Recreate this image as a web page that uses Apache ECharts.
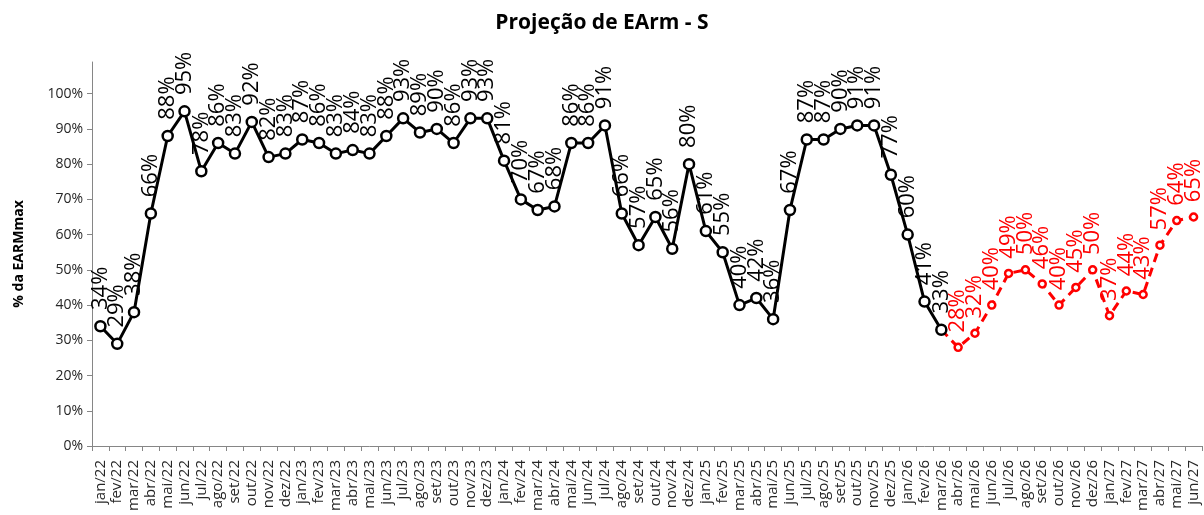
<!DOCTYPE html>
<html>
<head>
<meta charset="utf-8">
<script src="https://cdn.jsdelivr.net/npm/echarts@6/dist/echarts.min.js"></script>
<style>
  html, body { margin: 0; padding: 0; background: #fff; }
  #chart { width: 1204px; height: 515px; }
</style>
</head>
<body>
<div id="chart"></div>
<script>
// Months from jan/22 to jun/27
const months = [
  'jan/22','fev/22','mar/22','abr/22','mai/22','jun/22','jul/22','ago/22','set/22','out/22','nov/22','dez/22',
  'jan/23','fev/23','mar/23','abr/23','mai/23','jun/23','jul/23','ago/23','set/23','out/23','nov/23','dez/23',
  'jan/24','fev/24','mar/24','abr/24','mai/24','jun/24','jul/24','ago/24','set/24','out/24','nov/24','dez/24',
  'jan/25','fev/25','mar/25','abr/25','mai/25','jun/25','jul/25','ago/25','set/25','out/25','nov/25','dez/25',
  'jan/26','fev/26','mar/26','abr/26','mai/26','jun/26','jul/26','ago/26','set/26','out/26','nov/26','dez/26',
  'jan/27','fev/27','mar/27','abr/27','mai/27','jun/27'
];

// Verified storage (% of EARMmax), jan/22 .. mar/26
const verified = [
  34, 29, 38, 66, 88, 95, 78, 86, 83, 92, 82, 83,
  87, 86, 83, 84, 83, 88, 93, 89, 90, 86, 93, 93,
  81, 70, 67, 68, 86, 86, 91, 66, 57, 65, 56, 80,
  61, 55, 40, 42, 36, 67, 87, 87, 90, 91, 91, 77,
  60, 41, 33
];

// Projected storage (% of EARMmax), abr/26 .. jun/27
const projected = [28, 32, 40, 49, 50, 46, 40, 45, 50, 37, 44, 43, 57, 64, 65];

// Y axis tick values
const yTicks = [0, 10, 20, 30, 40, 50, 60, 70, 80, 90, 100];

const verifiedData = months.map((m, i) => i < verified.length ? verified[i] : null);
// projection line starts from the last verified month so the two lines join
const joinIdx = verified.length - 1;
const projectedData = months.map((m, i) => {
  if (i === joinIdx) return { value: verified[joinIdx], symbol: 'none', label: { show: false } };
  if (i > joinIdx) return projected[i - joinIdx - 1];
  return null;
});

const FONT = '"Open Sans", "Noto Sans", sans-serif';

const pointLabel = color => ({
  show: true,
  position: 'top',
  distance: 10,
  rotate: 90,
  align: 'left',
  verticalAlign: 'middle',
  formatter: p => p.value + '%',
  fontFamily: FONT,
  fontSize: 22,
  color: color
});

const chart = echarts.init(document.getElementById('chart'), null, { renderer: 'canvas' });
chart.setOption({
  animation: false,
  backgroundColor: '#fff',
  title: {
    text: 'Projeção de EArm - S',
    left: 'center',
    top: 8,
    textStyle: { fontFamily: FONT, fontSize: 21, fontWeight: 'bold', color: '#000' }
  },
  grid: { left: 92, right: 2, top: 62, bottom: 69, containLabel: false },
  xAxis: {
    type: 'category',
    data: months,
    boundaryGap: true,
    axisLine: { lineStyle: { color: '#868686', width: 1 } },
    axisTick: { show: true, length: 5, lineStyle: { color: '#868686' } },
    axisLabel: {
      interval: 0,
      rotate: 90,
      fontFamily: FONT,
      fontSize: 15,
      color: '#262626',
      margin: 14
    }
  },
  yAxis: {
    type: 'value',
    min: 0,
    max: 109,
    name: '% da EARMmax',
    nameLocation: 'middle',
    nameGap: 66,
    nameRotate: 90,
    nameTextStyle: { fontFamily: FONT, fontSize: 14, fontWeight: 'bold', color: '#000' },
    axisLine: { show: true, lineStyle: { color: '#868686', width: 1 } },
    axisTick: { show: true, length: 5, lineStyle: { color: '#868686' }, customValues: yTicks },
    splitLine: { show: false },
    axisLabel: {
      customValues: yTicks,
      formatter: v => v + '%',
      fontFamily: FONT,
      fontSize: 14,
      color: '#262626',
      margin: 9
    }
  },
  series: [
    {
      name: 'Verificado',
      type: 'line',
      data: verifiedData,
      symbol: 'circle',
      symbolSize: 10,
      showAllSymbol: true,
      lineStyle: { color: '#000', width: 3 },
      itemStyle: { color: '#fff', borderColor: '#000', borderWidth: 2.5 },
      label: pointLabel('#000'),
      z: 3
    },
    {
      name: 'Projeção',
      type: 'line',
      data: projectedData,
      symbol: 'circle',
      symbolSize: 7,
      showAllSymbol: true,
      lineStyle: { color: '#ff0000', width: 3, type: [9, 6] },
      itemStyle: { color: '#fff', borderColor: '#ff0000', borderWidth: 2.5 },
      label: pointLabel('#ff0000'),
      z: 2
    }
  ]
});
</script>
</body>
</html>
